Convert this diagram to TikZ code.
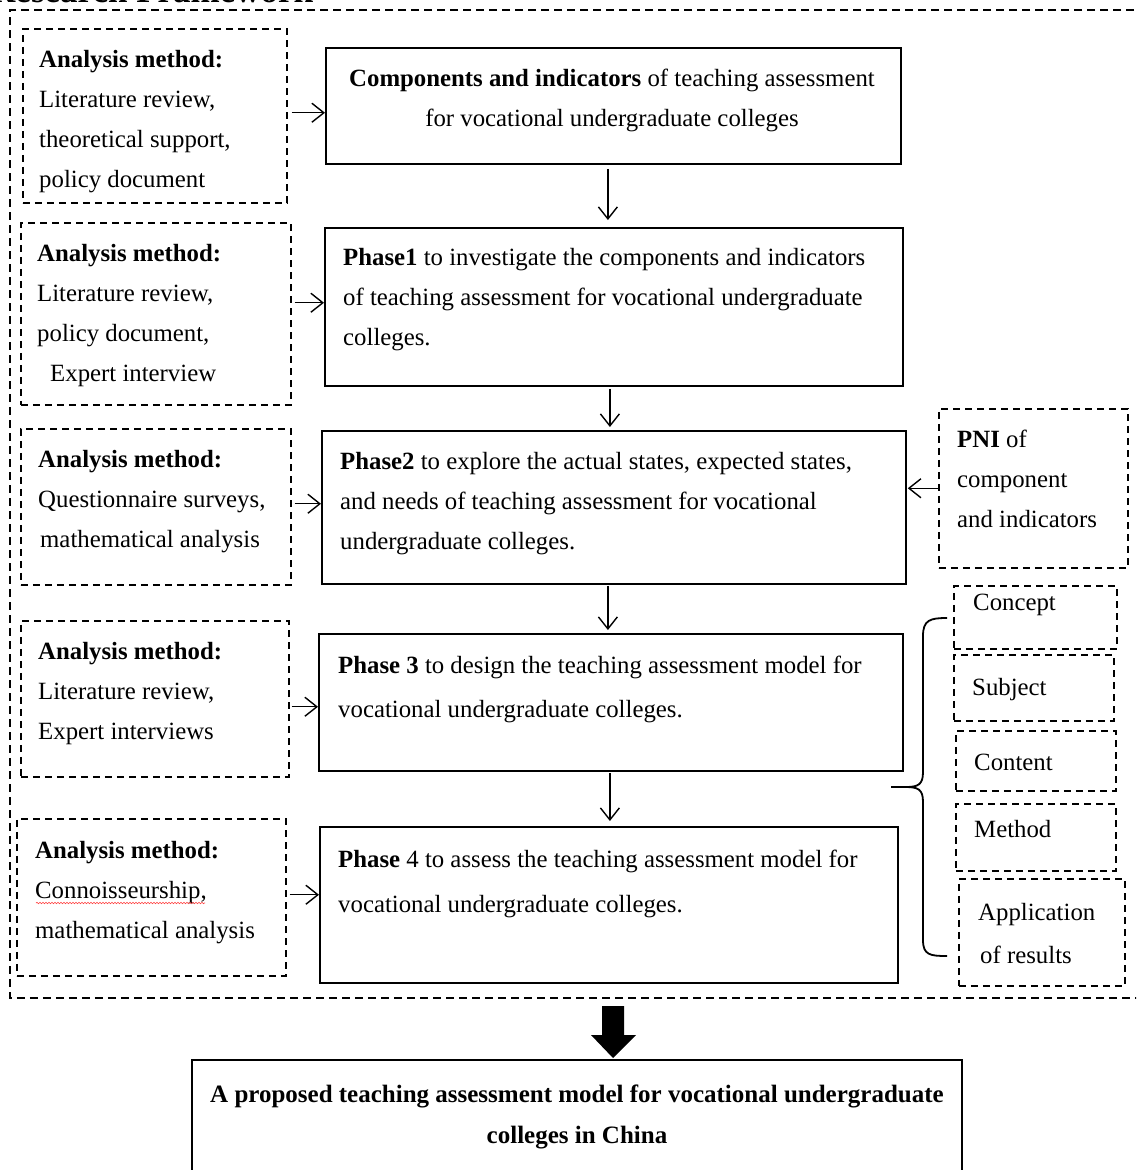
\documentclass[tikz,border=0pt]{standalone}
\usepackage{fontspec}
\setmainfont{Liberation Serif}
\usetikzlibrary{arrows.meta,decorations.pathmorphing}
\newcommand\firstl{\rule{0pt}{18pt}}
\begin{document}
\begin{tikzpicture}[x=1pt,y=-1pt,
  dbox/.style={draw, dash pattern=on 7pt off 5pt, line width=1.5pt, inner sep=0pt, anchor=north west},
  sbox/.style={draw, line width=1.8pt, inner sep=0pt, anchor=north west},
  txt/.style={inner sep=0pt, anchor=north west, align=left, font=\fontsize{24.8}{40}\selectfont},
  ctxt/.style={inner sep=0pt, anchor=north, align=center, font=\fontsize{24.8}{40}\selectfont},
  arr/.style={line width=1.4pt, -{Straight Barb[length=12pt,width=19pt]}},
]
\useasboundingbox (0,0) rectangle (1136,1170);
\clip (0,0) rectangle (1136,1170);
\fill[white] (0,0) rectangle (1136,1170);

% partially visible title
\node[inner sep=0pt, anchor=base west, font=\fontsize{35}{40}\selectfont\bfseries] (title) at (-10,2) {Research Framework};

% outer frame
\draw[dash pattern=on 8pt off 5pt, line width=1.5pt] (1160,10) -- (10,10) -- (10,998) -- (1160,998);

% left method boxes
\node[dbox, minimum width=264pt, minimum height=174pt] (L1) at (22,28) {};
\node[dbox, minimum width=270pt, minimum height=182pt] (L2) at (20,222) {};
\node[dbox, minimum width=270pt, minimum height=156pt] (L3) at (20,428) {};
\node[dbox, minimum width=268pt, minimum height=156pt] (L4) at (20,620) {};
\node[dbox, minimum width=269pt, minimum height=157pt] (L5) at (16,818) {};

\node[txt] (T1) at (39,49) {\firstl\textbf{Analysis method:}\\Literature review,\\theoretical support,\\policy document};
\node[txt] (T2) at (37,243) {\firstl\textbf{Analysis method:}\\Literature review,\\policy document,\\\hspace*{13pt}Expert interview};
\node[txt] (T3) at (38,449) {\firstl\textbf{Analysis method:}\\Questionnaire surveys,\\\hspace*{2pt}mathematical analysis};
\node[txt] (T4) at (38,641) {\firstl\textbf{Analysis method:}\\Literature review,\\Expert interviews};
\node[txt] (T5) at (35,840) {\firstl\textbf{Analysis method:}\\Connoisseurship,\\mathematical analysis};
\draw[red!75, line width=0.6pt, decorate, decoration={snake, amplitude=0.7pt, segment length=3pt}] (36,903) -- (205,903);

% main boxes
\node[sbox, minimum width=575pt, minimum height=116pt] (M1) at (325,47) {};
\node[sbox, minimum width=578pt, minimum height=158pt] (M2) at (324,227) {};
\node[sbox, minimum width=584pt, minimum height=153pt] (M3) at (321,430) {};
\node[sbox, minimum width=584pt, minimum height=137pt] (M4) at (318,633) {};
\node[sbox, minimum width=578pt, minimum height=156pt] (M5) at (319,826) {};

\node[ctxt] (MT1) at (612,68) {\firstl\textbf{Components and indicators} of teaching assessment\\for vocational undergraduate colleges};
\node[txt] (MT2) at (343,247) {\firstl\textbf{Phase1} to investigate the components and indicators\\of teaching assessment for vocational undergraduate\\colleges.};
\node[txt] (MT3) at (340,451) {\firstl\textbf{Phase2} to explore the actual states, expected states,\\and needs of teaching assessment for vocational\\undergraduate colleges.};
\node[txt] (MT4) at (338,655) {\firstl\textbf{Phase 3} to design the teaching assessment model for\\[4pt]vocational undergraduate colleges.};
\node[txt] (MT5) at (338,849) {\firstl\textbf{Phase} 4 to assess the teaching assessment model for\\[5pt]vocational undergraduate colleges.};

% PNI box
\node[dbox, minimum width=189pt, minimum height=159pt] (P) at (938,408) {};
\node[txt] (PT) at (957,429) {\firstl\textbf{PNI} of\\component\\and indicators};

% component boxes
\node[dbox, minimum width=163pt, minimum height=63pt] (C1) at (953,585) {};
\node[dbox, minimum width=160pt, minimum height=66pt] (C2) at (953,654) {};
\node[dbox, minimum width=160pt, minimum height=60pt] (C3) at (955,730) {};
\node[dbox, minimum width=160pt, minimum height=67pt] (C4) at (955,803) {};
\node[dbox, minimum width=166pt, minimum height=107pt] (C5) at (958,878) {};
\node[txt] (CT1) at (973,592) {\firstl Concept};
\node[txt] (CT2) at (972,677) {\firstl Subject};
\node[txt] (CT3) at (974,752) {\firstl Content};
\node[txt] (CT4) at (974,819) {\firstl Method};
\node[txt] (CT5) at (978,902) {\firstl Application\\[3pt]\hspace*{2pt}of results};

% brace
\draw[line width=1.8pt] (947,618) .. controls (930,618) and (923,620) .. (923,636) -- (923,772)
  .. controls (923,785) and (918,787) .. (905,787) -- (891,787);
\draw[line width=1.8pt] (905,787) .. controls (918,787) and (923,789) .. (923,802) -- (923,940)
  .. controls (923,955) and (930,956) .. (947,956);

% bottom box
\node[sbox, minimum width=770pt, minimum height=160pt] (B) at (191,1059) {};
\node[ctxt, font=\fontsize{25}{41}\selectfont\bfseries] (BT) at (577,1084) {\firstl A proposed teaching assessment model for vocational undergraduate\\colleges in China};

% connectors: left to main
\draw[arr, shorten <=4pt] ([yshift=3pt]L1.east) -- ([yshift=3pt]L1.east -| M1.west);
\draw[arr, shorten <=3pt] ([yshift=11pt]L2.east) -- ([yshift=11pt]L2.east -| M2.west);
\draw[arr, shorten <=3pt] ([yshift=3pt]L3.east) -- ([yshift=3pt]L3.east -| M3.west);
\draw[arr, shorten <=2pt] ([yshift=-8pt]L4.east) -- ([yshift=-8pt]L4.east -| M4.west);
\draw[arr, shorten <=3pt] ([yshift=2.5pt]L5.east) -- ([yshift=2.5pt]L5.east -| M5.west);

% connectors: main chain
\draw[arr, shorten <=4pt, shorten >=7pt] ([xshift=-5.5pt]M1.south) -- ([xshift=-5.5pt]M1.south |- M2.north);
\draw[arr, shorten <=2pt, shorten >=3pt] ([xshift=-4pt]M2.south) -- ([xshift=-4pt]M2.south |- M3.north);
\draw[arr, shorten <=1pt, shorten >=3pt] ([xshift=-6pt]M3.south) -- ([xshift=-6pt]M3.south |- M4.north);
\draw[arr, shorten <=1pt, shorten >=5pt] ([xshift=-1pt]M4.south) -- ([xshift=-1pt]M4.south |- M5.north);

% PNI to phase 2
\draw[arr, shorten >=1pt] (P.west) -- (P.west -| M3.east);

% big arrow to result
\coordinate (ba) at (613,1006);
\fill[black] (602,1006) -- (624,1006) -- (624,1035) -- (636,1035) -- (613,1058) -- (591,1035) -- (602,1035) -- cycle;
\end{tikzpicture}
\end{document}
